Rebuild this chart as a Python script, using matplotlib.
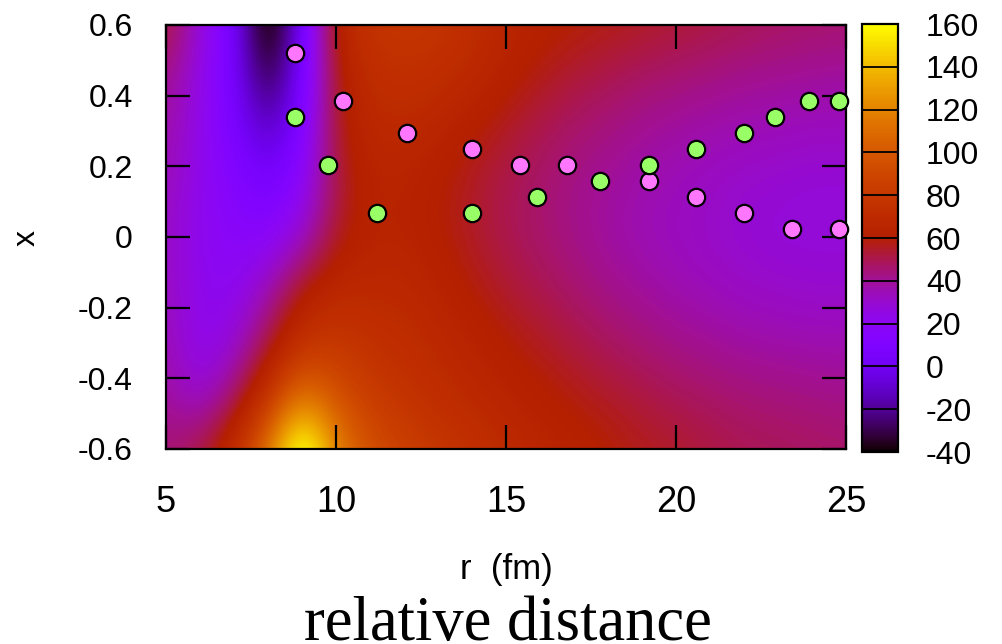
import matplotlib
import matplotlib.pyplot as plt
import numpy as np

matplotlib.use("Agg")
plt.rcParams["axes.unicode_minus"] = False

R_GRID = [5, 6, 7, 8, 9, 10, 11, 12, 13, 14, 15, 16, 17, 18, 19, 20, 21, 22, 23, 24, 25]
X_GRID = [-0.6, -0.45, -0.3, -0.15, 0.0, 0.15, 0.3, 0.45, 0.6]

# field values, one row per X_GRID entry (bottom to top)
ROW_M060 = [45, 52, 72, 115, 185, 120, 96, 86, 80, 75, 70, 66, 63, 60, 57, 55, 52, 50, 49, 48, 47]
ROW_M045 = [40, 28, 46, 76, 115, 96, 82, 77, 72, 68, 64, 61, 58, 55, 52, 49, 47, 45, 44, 43, 42]
ROW_M030 = [36, 21, 28, 52, 76, 80, 75, 72, 68, 64, 60, 56, 52, 48, 45, 42, 40, 38, 37, 36, 36]
ROW_M015 = [34, 22, 20, 35, 60, 68, 68, 68, 64, 59, 54, 50, 46, 42, 39, 36, 34, 32, 31, 30, 30]
ROW_000 = [33, 21, 17, 16, 30, 56, 64, 64, 60, 55, 50, 46, 42, 38, 35, 33, 31, 29, 28, 28, 28]
ROW_015 = [35, 22, 14, 5, 18, 52, 64, 64, 60, 55, 50, 46, 42, 39, 36, 34, 32, 30, 29, 28, 28]
ROW_030 = [38, 24, 8, -14, 10, 56, 68, 68, 65, 60, 55, 50, 46, 43, 40, 38, 36, 35, 34, 33, 33]
ROW_045 = [42, 25, 5, -36, 4, 58, 72, 74, 72, 68, 62, 57, 53, 50, 47, 45, 43, 41, 40, 39, 38]
ROW_060 = [56, 28, 6, -55, 2, 64, 78, 80, 78, 72, 66, 62, 60, 58, 56, 54, 52, 50, 48, 47, 46]

# scatter points
PINK_R = [8.8, 10.2, 12.1, 14.0, 15.4, 16.8, 19.2, 20.6, 22.0, 23.4, 24.8]
PINK_X = [0.52, 0.385, 0.295, 0.25, 0.205, 0.205, 0.158, 0.112, 0.067, 0.022, 0.022]
GREEN_R = [8.8, 9.75, 11.2, 14.0, 15.9, 17.75, 19.2, 20.6, 22.0, 22.9, 23.9, 24.8]
GREEN_X = [0.34, 0.205, 0.068, 0.068, 0.112, 0.158, 0.205, 0.25, 0.295, 0.34, 0.385, 0.385]

X_TICKS = [5, 10, 15, 20, 25]
Y_TICKS = [-0.6, -0.4, -0.2, 0, 0.2, 0.4, 0.6]
Y_TICK_LABELS = ["-0.6", "-0.4", "-0.2", "0", "0.2", "0.4", "0.6"]
CB_TICKS = [-40, -20, 0, 20, 40, 60, 80, 100, 120, 140, 160]

SANS = "Liberation Sans"
FS = 23


def main():
    field = np.array([ROW_M060, ROW_M045, ROW_M030, ROW_M015, ROW_000,
                      ROW_015, ROW_030, ROW_045, ROW_060], dtype=float)
    dr = R_GRID[1] - R_GRID[0]
    dx = X_GRID[1] - X_GRID[0]
    extent = (R_GRID[0] - dr / 2, R_GRID[-1] + dr / 2,
              X_GRID[0] - dx / 2, X_GRID[-1] + dx / 2)

    fig = plt.figure(figsize=(10.03, 6.44), dpi=100, facecolor="white")
    ax = fig.add_axes([0.1655, 0.3028, 0.678, 0.6584])
    cax = fig.add_axes([0.8594, 0.2981, 0.0359, 0.6646])

    im = ax.imshow(field, origin="lower", extent=extent, aspect="auto",
                   cmap="gnuplot", vmin=-40, vmax=160, interpolation="bicubic")
    ax.set_xlim(5, 25)
    ax.set_ylim(-0.6, 0.6)

    ax.plot(PINK_R, PINK_X, "o", ms=12.5, mfc="#ff77ff", mec="black", mew=1.6,
            clip_on=False, zorder=3)
    ax.plot(GREEN_R, GREEN_X, "o", ms=12.5, mfc="#99ff66", mec="black", mew=1.6,
            clip_on=False, zorder=3)

    ax.set_xticks(X_TICKS)
    ax.set_xticklabels([str(t) for t in X_TICKS], fontsize=26, family=SANS)
    ax.set_yticks(Y_TICKS)
    ax.set_yticklabels(Y_TICK_LABELS, fontsize=FS, family=SANS)
    ax.tick_params(axis="both", direction="in", length=17, width=1.6,
                   top=True, right=True)
    ax.tick_params(axis="x", pad=26)
    ax.tick_params(axis="y", pad=24)
    for spine in ax.spines.values():
        spine.set_linewidth(1.6)

    cbar = fig.colorbar(im, cax=cax, ticks=CB_TICKS)
    cbar.ax.tick_params(length=0, pad=20, labelsize=FS)
    cbar.ax.set_yticklabels([str(t) for t in CB_TICKS])
    for lab in cbar.ax.get_yticklabels():
        lab.set_family(SANS)
    for t in CB_TICKS[1:-1]:
        cbar.ax.axhline(t, color="black", lw=1.3)
    cbar.outline.set_linewidth(1.6)

    fig.text(27 / 1003, 1 - 238 / 644, "x", fontsize=FS, family=SANS,
             rotation=90, ha="center", va="center")
    fig.text(506 / 1003, 1 - 569 / 644, "r  (fm)", fontsize=25, family=SANS,
             ha="center", va="center")
    fig.text(508 / 1003, 4 / 644, "relative distance", fontsize=45,
             family="Liberation Serif", ha="center", va="baseline")

    fig.savefig("out.png", dpi=100, facecolor="white")
    plt.close(fig)


if __name__ == "__main__":
    main()
